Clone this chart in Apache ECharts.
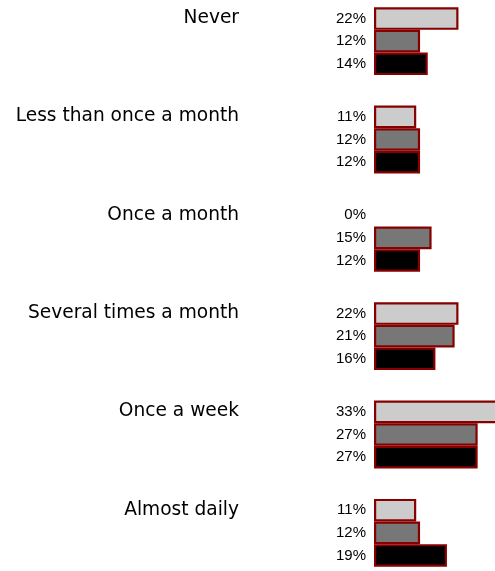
<!DOCTYPE html>
<html lang="en">
<head>
    <meta charset="UTF-8">
    <script src="https://cdn.jsdelivr.net/npm/echarts@6/dist/echarts.min.js"></script>
    <title>Frequency chart</title>
    <style>
        html, body { margin: 0; padding: 0; background: #fff; }
    </style>
</head>
<body>
<div id="main" style="width: 495px;height:571px;"></div>
<script type="text/javascript">
        // data
        var categories = ['Never', 'Less than once a month', 'Once a month',
                          'Several times a month', 'Once a week', 'Almost daily'];
        var seriesA = [22, 11, 0, 22, 33, 11];
        var seriesB = [12, 12, 15, 21, 27, 12];
        var seriesC = [14, 12, 12, 16, 27, 19];
        var seriesColors = ['#cccccc', '#777777', '#000000'];

        var myChart = echarts.init(document.getElementById('main'));

        function makeSeries(values, color) {
            return {
                type: 'bar',
                barGap: 0,
                barCategoryGap: '31%',
                data: values.map(function (v) {
                    // a zero bar has no outline in the reference
                    return v === 0 ? { value: v, itemStyle: { borderWidth: 0 } } : v;
                }),
                itemStyle: {
                    color: color,
                    borderColor: '#860000',
                    borderWidth: 2.2
                },
                label: {
                    show: true,
                    position: 'left',
                    distance: 8,
                    formatter: '{c}%',
                    color: '#000',
                    fontFamily: 'Liberation Sans',
                    fontSize: 15
                },
                silent: true
            };
        }

        var option = {
            animation: false,
            grid: {
                left: 374, right: -3, top: -8, bottom: -11,
                containLabel: false,
                outerBoundsMode: 'none'
            },
            xAxis: {
                type: 'value',
                min: 0,
                max: 32.3,
                show: false
            },
            yAxis: {
                type: 'category',
                inverse: true,
                data: categories,
                axisLine: { show: false },
                axisTick: { show: false },
                splitLine: { show: false },
                axisLabel: {
                    margin: 135,
                    color: '#000',
                    fontFamily: 'DejaVu Sans',
                    fontSize: 18.6,
                    lineHeight: 46,
                    // empty second line lifts the name up to the first bar
                    formatter: function (v) { return v + '\n '; }
                }
            },
            series: [
                makeSeries(seriesA, seriesColors[0]),
                makeSeries(seriesB, seriesColors[1]),
                makeSeries(seriesC, seriesColors[2])
            ]
        };

        myChart.setOption(option);
    </script>
</body>
</html>
